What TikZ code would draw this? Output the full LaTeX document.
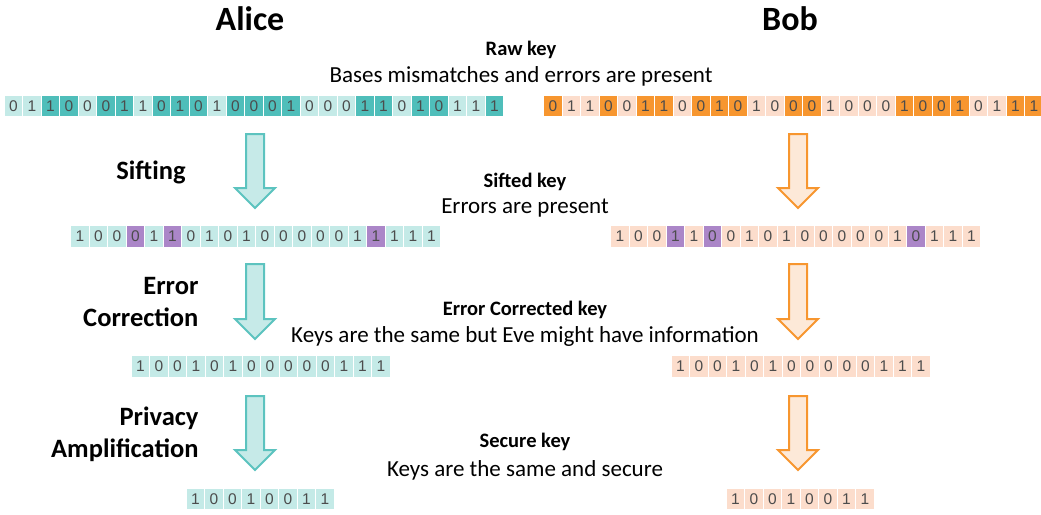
\documentclass[tikz,border=0pt]{standalone}
\usepackage{fontspec}
\setmainfont{Carlito}
\newfontfamily\digitfont{Liberation Sans}
\begin{document}
\begin{tikzpicture}[x=1pt,y=-1pt,
  bit/.style={minimum width=18.5pt,minimum height=22pt,inner sep=0pt,draw=white,line width=1.2pt,
    font=\digitfont\fontsize{15.5}{15.5}\selectfont,text=black!70},
  bit-A/.style={bit,fill=tealdark},
  bit-a/.style={bit,fill=teallight},
  bit-B/.style={bit,fill=orangedark},
  bit-b/.style={bit,fill=orangelight},
  bit-p/.style={bit,fill=purplebit},
  who/.style={font=\bfseries\fontsize{34}{34}\selectfont},
  keyname/.style={font=\bfseries\fontsize{20.5}{20.5}\selectfont},
  keynote/.style={font=\fontsize{23}{23}\selectfont},
  stepname/.style={font=\bfseries\fontsize{26.5}{32}\selectfont,align=right,anchor=east},
  alicearrow/.style={fill=tealarrow,draw=tealline,line width=2pt,line join=miter},
  bobarrow/.style={fill=orangearrow,draw=orangedark,line width=2pt,line join=miter}]

\definecolor{tealdark}{HTML}{4FBEBA}
\definecolor{teallight}{HTML}{C4EAE7}
\definecolor{tealarrow}{HTML}{C6EAE8}
\definecolor{tealline}{HTML}{5CC3BF}
\definecolor{orangedark}{HTML}{F7962F}
\definecolor{orangelight}{HTML}{FCDDCC}
\definecolor{orangearrow}{HTML}{FDE9D8}
\definecolor{purplebit}{HTML}{AB86C8}

\useasboundingbox (0,0) rectangle (1041,514);

% a row of key bits: name, x of first cell centre, y, list of bit/style
\newcommand\keyrow[4]{%
  \foreach \b/\s [count=\i] in {#4}
    \node[bit-\s] (#1-\i) at ({#2+(\i-1)*18.5},#3) {\b};}

% a downward block arrow: style, centre x, top y, tip y
\newcommand\blockarrow[4]{%
  \draw[#1] (#2-9,#3) -- (#2+9,#3) -- (#2+9,#4-20) -- (#2+20,#4-20) -- (#2,#4)
    -- (#2-20,#4-20) -- (#2-9,#4-20) -- cycle;}

% headings
\node[who] (alice) at (250,19) {Alice};
\node[who] (bob) at (790,19) {Bob};

% raw key
\node[keyname] (rawname) at (521,50) {Raw key};
\node[keynote] (rawnote) at (521,76) {Bases mismatches and errors are present};
\keyrow{araw}{13.5}{106}{0/a,1/a,1/A,0/A,0/a,0/A,1/A,1/a,0/A,1/A,0/A,1/a,0/A,0/A,0/A,1/A,0/a,0/a,0/a,1/A,1/A,0/a,1/A,0/A,1/a,1/a,1/A}
\keyrow{braw}{553}{106}{0/B,1/b,1/b,0/B,0/b,1/B,1/B,0/b,0/B,1/B,0/B,1/b,0/b,0/B,0/B,1/b,0/b,0/b,0/b,1/B,0/B,0/B,1/B,0/b,1/b,1/B,1/B}

% sifting
\node[stepname,anchor=center] (sifting) at (151,172) {Sifting};
\blockarrow{alicearrow}{255}{134}{208}
\blockarrow{bobarrow}{798}{134}{208}
\node[keyname] (siftname) at (525,182) {Sifted key};
\node[keynote] (siftnote) at (525,208) {Errors are present};
\keyrow{asift}{80}{236.5}{1/a,0/a,0/a,0/p,1/a,1/p,0/a,1/a,0/a,1/a,0/a,0/a,0/a,0/a,0/a,1/a,1/p,1/a,1/a,1/a}
\keyrow{bsift}{620}{236.5}{1/b,0/b,0/b,1/p,1/b,0/p,0/b,1/b,0/b,1/b,0/b,0/b,0/b,0/b,0/b,1/b,0/p,1/b,1/b,1/b}

% error correction
\node[stepname] (errcorr) at (202,302) {Error\\Correction};
\blockarrow{alicearrow}{255}{264}{339}
\blockarrow{bobarrow}{798}{264}{339}
\node[keyname] (ecname) at (525,310) {Error Corrected key};
\node[keynote] (ecnote) at (525,336) {Keys are the same but Eve might have information};
\keyrow{aec}{140.5}{366.5}{1/a,0/a,0/a,1/a,0/a,1/a,0/a,0/a,0/a,0/a,0/a,1/a,1/a,1/a}
\keyrow{bec}{680.5}{366.5}{1/b,0/b,0/b,1/b,0/b,1/b,0/b,0/b,0/b,0/b,0/b,1/b,1/b,1/b}

% privacy amplification
\node[stepname] (privamp) at (202,434) {Privacy\\Amplification};
\blockarrow{alicearrow}{255}{396}{470}
\blockarrow{bobarrow}{798}{396}{470}
\node[keyname] (secname) at (525,442) {Secure key};
\node[keynote] (secnote) at (525,470) {Keys are the same and secure};
\keyrow{asec}{195.5}{499}{1/a,0/a,0/a,1/a,0/a,0/a,1/a,1/a}
\keyrow{bsec}{735.5}{499}{1/b,0/b,0/b,1/b,0/b,0/b,1/b,1/b}
\end{tikzpicture}
\end{document}
